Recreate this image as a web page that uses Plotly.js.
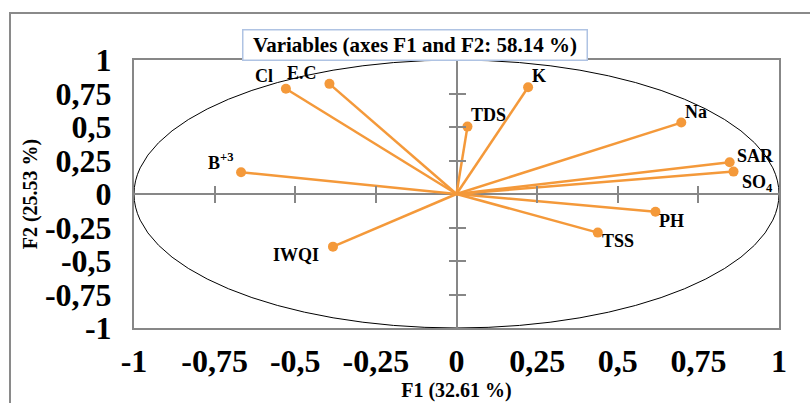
<!DOCTYPE html>
<html>
<head>
<meta charset="utf-8">
<script src="https://cdn.plot.ly/plotly-3.0.1.min.js"></script>
<style>
  html, body { margin: 0; padding: 0; background: #fff; }
  #frame { position: absolute; left: 9px; top: 12px; width: 900px; height: 500px;
           border-left: 2px solid #8a8a8a; border-top: 2px solid #8a8a8a; }
  #chart { position: absolute; left: 0; top: 0; width: 810px; height: 403px; }
</style>
</head>
<body>
<div id="frame"></div>
<div id="chart"></div>
<script>
// ---- data ----
const variables = ['Cl', 'E.C', 'K', 'TDS', 'Na', 'SAR', 'SO4', 'PH', 'TSS', 'IWQI', 'B+3'];
const variableLabels = ['Cl', 'E.C', 'K', 'TDS', 'Na', 'SAR', 'SO<sub>4</sub>', 'PH', 'TSS', 'IWQI', 'B<sup>+3</sup>'];
const f1 = [-0.529, -0.394, 0.222, 0.034, 0.697, 0.847, 0.859, 0.617, 0.438, -0.383, -0.668];
const f2 = [0.785, 0.822, 0.797, 0.503, 0.533, 0.237, 0.167, -0.133, -0.288, -0.393, 0.162];
const tickValues = [-1, -0.75, -0.5, -0.25, 0, 0.25, 0.5, 0.75, 1];
const tickLabels = ['-1', '-0,75', '-0,5', '-0,25', '0', '0,25', '0,5', '0,75', '1'];
const crossTickValues = [-0.75, -0.5, -0.25, 0.25, 0.5, 0.75];
const chartTitle = 'Variables (axes F1 and F2: 58.14 %)';
const xTitle = 'F1 (32.61 %)';
const yTitle = 'F2 (25.53 %)';

// ---- styles ----
const ORANGE = '#F4993A';
const GREY = '#878787';
const FONT = 'Liberation Serif, Times New Roman, serif';
// label offsets (px) relative to each point: [xshift, yshift]
const labelShift = {
  'Cl': [-22, 13], 'E.C': [-27, 11], 'K': [11, 11], 'TDS': [21, 12], 'Na': [15, 11],
  'SAR': [26, 6], 'SO4': [24, -12], 'PH': [16, -9], 'TSS': [20, -8], 'IWQI': [-37, -8], 'B+3': [-20, 11]
};

const lx = [], ly = [];
for (let i = 0; i < variables.length; i++) {
  lx.push(0, f1[i], null);
  ly.push(0, f2[i], null);
}

const traces = [
  { x: lx, y: ly, mode: 'lines', type: 'scatter', line: { color: ORANGE, width: 2.5 },
    hoverinfo: 'skip', showlegend: false },
  { x: f1, y: f2, mode: 'markers', type: 'scatter', text: variables,
    marker: { color: ORANGE, size: 10 }, showlegend: false },
  { x: [null], y: [null], xaxis: 'x2', yaxis: 'y2', type: 'scatter', mode: 'markers', showlegend: false },
  { x: [null], y: [null], xaxis: 'x3', yaxis: 'y3', type: 'scatter', mode: 'markers', showlegend: false }
];

const annotations = variables.map((v, i) => ({
  x: f1[i], y: f2[i], xref: 'x', yref: 'y', text: variableLabels[i], showarrow: false,
  xanchor: 'center', yanchor: 'middle', xshift: labelShift[v][0], yshift: labelShift[v][1],
  font: { family: FONT, size: 18, color: '#000', weight: 'bold' }
}));
annotations.push({
  xref: 'paper', yref: 'paper', x: 0.4364, y: 1.056, xanchor: 'center', yanchor: 'middle',
  text: chartTitle, showarrow: false, width: 343, height: 29, bgcolor: '#fff',
  bordercolor: '#AFC3E3', borderwidth: 1.5, borderpad: 0,
  font: { family: FONT, size: 21, color: '#000', weight: 'bold' }
});

const crossAxis = (extra) => Object.assign({
  range: [-1, 1], tickvals: crossTickValues, showticklabels: false, showgrid: false,
  zeroline: false, showline: false, ticklen: 8, tickwidth: 2, tickcolor: GREY,
  anchor: 'free', position: 0.5, fixedrange: true
}, extra);

const layout = {
  width: 810, height: 403,
  margin: { l: 134, r: 31, t: 60, b: 75 },
  paper_bgcolor: 'rgba(0,0,0,0)', plot_bgcolor: 'rgba(0,0,0,0)',
  font: { family: FONT, color: '#000' },
  showlegend: false,
  xaxis: {
    range: [-1, 1], tickvals: tickValues, ticktext: tickLabels, ticks: '',
    showgrid: false, zeroline: true, zerolinecolor: GREY, zerolinewidth: 2,
    showline: true, mirror: true, linecolor: GREY, linewidth: 2,
    tickfont: { family: FONT, size: 32, weight: 'bold', color: '#000' },
    ticklabelstandoff: 4,
    title: { text: xTitle, font: { family: FONT, size: 20, weight: 'bold' }, standoff: 2 }
  },
  yaxis: {
    range: [-1, 1], tickvals: tickValues, ticktext: tickLabels, ticks: '',
    showgrid: false, zeroline: true, zerolinecolor: GREY, zerolinewidth: 2,
    showline: true, mirror: true, linecolor: GREY, linewidth: 2,
    tickfont: { family: FONT, size: 32, weight: 'bold', color: '#000' },
    ticklabelstandoff: 14,
    title: { text: yTitle, font: { family: FONT, size: 20, weight: 'bold' }, standoff: 2 }
  },
  xaxis2: crossAxis({ overlaying: 'x', ticks: 'inside' }),
  xaxis3: crossAxis({ overlaying: 'x', ticks: 'outside' }),
  yaxis2: crossAxis({ overlaying: 'y', ticks: 'inside' }),
  yaxis3: crossAxis({ overlaying: 'y', ticks: 'outside' }),
  shapes: [
    { type: 'circle', xref: 'x', yref: 'y', x0: -1, x1: 1, y0: -1, y1: 1,
      line: { color: '#000', width: 1 }, layer: 'below' }
  ],
  annotations: annotations
};

Plotly.newPlot('chart', traces, layout, { staticPlot: true, displayModeBar: false });
</script>
</body>
</html>
